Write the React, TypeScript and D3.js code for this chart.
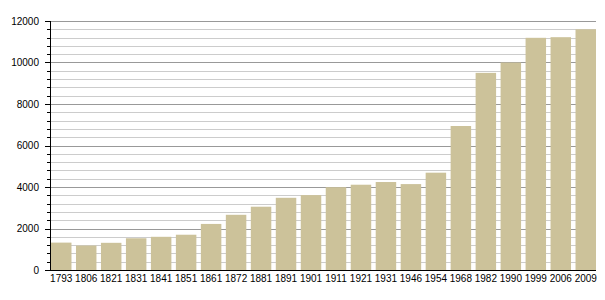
import React from "react";
import * as d3 from "d3";

const years = ["1793","1806","1821","1831","1841","1851","1861","1872","1881","1891","1901","1911","1921","1931","1946","1954","1968","1982","1990","1999","2006","2009"];
const population = [1320,1180,1310,1530,1600,1700,2220,2660,3050,3480,3610,3990,4110,4240,4140,4690,6940,9500,10000,11190,11220,11600];
const majorTicks = [0,2000,4000,6000,8000,10000,12000];

const W = 605, H = 300;
const left = 50, right = 596, top = 21, bottom = 270;

export default function App() {
  const x = d3.scaleBand<string>().domain(years).range([48.75, 598.25]).paddingInner(0.18).paddingOuter(0.09);
  const y = d3.scaleLinear().domain([0, 12000]).range([bottom, top]);
  const minor = d3.range(0, 12001, 400).filter(v => v % 2000 !== 0);
  const font = "'Liberation Sans', Arial, sans-serif";
  return (
    <svg width={W} height={H} style={{ position: "absolute", left: 0, top: 0, background: "#fff" }}>
      {minor.map(v => (
        <line key={"m" + v} x1={left} x2={right} y1={Math.round(y(v)) + 0.5} y2={Math.round(y(v)) + 0.5} stroke="#cccccc" strokeWidth={1} />
      ))}
      {majorTicks.filter(v => v > 0).map(v => (
        <line key={"M" + v} x1={left} x2={right} y1={Math.round(y(v)) + 0.5} y2={Math.round(y(v)) + 0.5} stroke="#999999" strokeWidth={1} />
      ))}
      {years.map((yr, i) => (
        <rect key={yr} x={x(yr)!} y={y(population[i])} width={x.bandwidth()} height={bottom - y(population[i])} fill="#ccc29a" />
      ))}
      {minor.map(v => (
        <line key={"mt" + v} x1={left - 3} x2={left} y1={Math.round(y(v)) + 0.5} y2={Math.round(y(v)) + 0.5} stroke="#000" strokeWidth={1} />
      ))}
      {majorTicks.map(v => (
        <g key={"t" + v}>
          <line x1={left - 5} x2={left} y1={Math.round(y(v)) + 0.5} y2={Math.round(y(v)) + 0.5} stroke="#000" strokeWidth={1} />
          <text x={39} y={y(v) + 3.5} textAnchor="end" fontFamily={font} fontSize={10} fill="#000">{v}</text>
        </g>
      ))}
      <line x1={left + 0.5} x2={left + 0.5} y1={top} y2={bottom + 0.5} stroke="#000" strokeWidth={1} />
      <line x1={left} x2={right} y1={bottom + 0.5} y2={bottom + 0.5} stroke="#000" strokeWidth={1} />
      {years.map(yr => (
        <text key={"l" + yr} x={x(yr)! + x.bandwidth() / 2} y={282} textAnchor="middle" fontFamily={font} fontSize={10} fill="#000">{yr}</text>
      ))}
    </svg>
  );
}
